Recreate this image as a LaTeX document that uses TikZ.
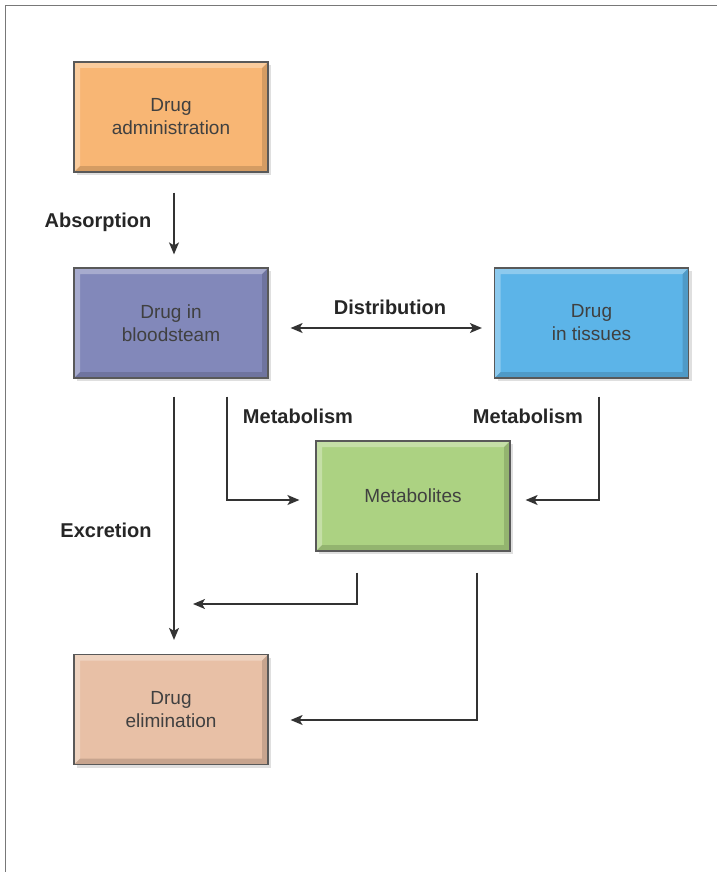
\documentclass[tikz,border=0pt]{standalone}
\usepackage{fontspec}
\setmainfont{Liberation Sans}
\usetikzlibrary{arrows.meta,shadows}

\definecolor{admincol}{RGB}{248,182,116}
\definecolor{bloodcol}{RGB}{130,136,186}
\definecolor{tissuecol}{RGB}{92,180,232}
\definecolor{metabcol}{RGB}{172,210,130}
\definecolor{elimcol}{RGB}{232,192,166}
\definecolor{framecol}{RGB}{120,120,120}

\tikzset{
  stagebox/.style={draw=black!65, line width=1.2pt, minimum width=194pt, minimum height=110pt,
    align=center, text=black!75, font=\fontsize{19}{23}\selectfont,
    drop shadow={shadow xshift=3pt, shadow yshift=-3pt, opacity=0.25},
    path picture={
      \fill[white, opacity=0.3] (path picture bounding box.south west) -- (path picture bounding box.north west)
        -- (path picture bounding box.north east) -- ([shift={(-6pt,-6pt)}]path picture bounding box.north east)
        -- ([shift={(6pt,-6pt)}]path picture bounding box.north west) -- ([shift={(6pt,6pt)}]path picture bounding box.south west) -- cycle;
      \fill[black, opacity=0.14] (path picture bounding box.south west) -- (path picture bounding box.south east)
        -- (path picture bounding box.north east) -- ([shift={(-6pt,-6pt)}]path picture bounding box.north east)
        -- ([shift={(-6pt,6pt)}]path picture bounding box.south east) -- ([shift={(6pt,6pt)}]path picture bounding box.south west) -- cycle;
    }},
  lbl/.style={font=\bfseries\fontsize{20}{24}\selectfont, text=black!85},
  arr/.style={->, >={Stealth[length=12pt,width=10pt,inset=3pt]}, line width=1.4pt, black!80},
}

\begin{document}
\begin{tikzpicture}[x=1pt,y=-1pt]
\useasboundingbox (0,0) rectangle (717,872);
\draw[framecol, line width=1pt] (5,872) -- (5,6) -- (717,6); % frame

% boxes
\node[stagebox, fill=admincol] (admin) at (171,117) {Drug\\administration};
\node[stagebox, fill=bloodcol] (blood) at (171,323) {Drug in\\bloodsteam};
\node[stagebox, fill=tissuecol] (tissues) at (591.5,323) {Drug\\in tissues};
\node[stagebox, fill=metabcol] (metab) at (413,496) {Metabolites};
\node[stagebox, fill=elimcol] (elim) at (171,709.5) {Drug\\elimination};
\coordinate (excend) at (193,604);

% labels
\node[lbl] (absorb) at (98,222) {Absorption};
\node[lbl] (distrib) at (390,307) {Distribution};
\node[lbl] (metabl) at (298,416) {Metabolism};
\node[lbl] (metabr) at (528,416) {Metabolism};
\node[lbl] (excret) at (106,530) {Excretion};

% connectors
\draw[arr, shorten <=20pt, shorten >=13pt] ([xshift=3pt]admin.south) -- ([xshift=3pt]blood.north);
\draw[arr, <->, shorten <=22pt, shorten >=12pt] ([yshift=-5pt]blood.east) -- ([yshift=-5pt]tissues.west);
\draw[arr, shorten <=18pt, shorten >=16pt] ([xshift=56pt]blood.south) |- ([yshift=-4pt]metab.west);
\draw[arr, shorten <=18pt, shorten >=15pt] ([xshift=7.5pt]tissues.south) |- ([yshift=-4pt]metab.east);
\draw[arr, shorten <=18pt, shorten >=14pt] ([xshift=3pt]blood.south) -- ([xshift=3pt]elim.north);
\draw[arr, shorten <=21pt] ([xshift=-56pt]metab.south) |- (excend);
\draw[arr, shorten <=21pt, shorten >=22pt] ([xshift=64pt]metab.south) |- ([yshift=-10.5pt]elim.east);
\end{tikzpicture}
\end{document}
